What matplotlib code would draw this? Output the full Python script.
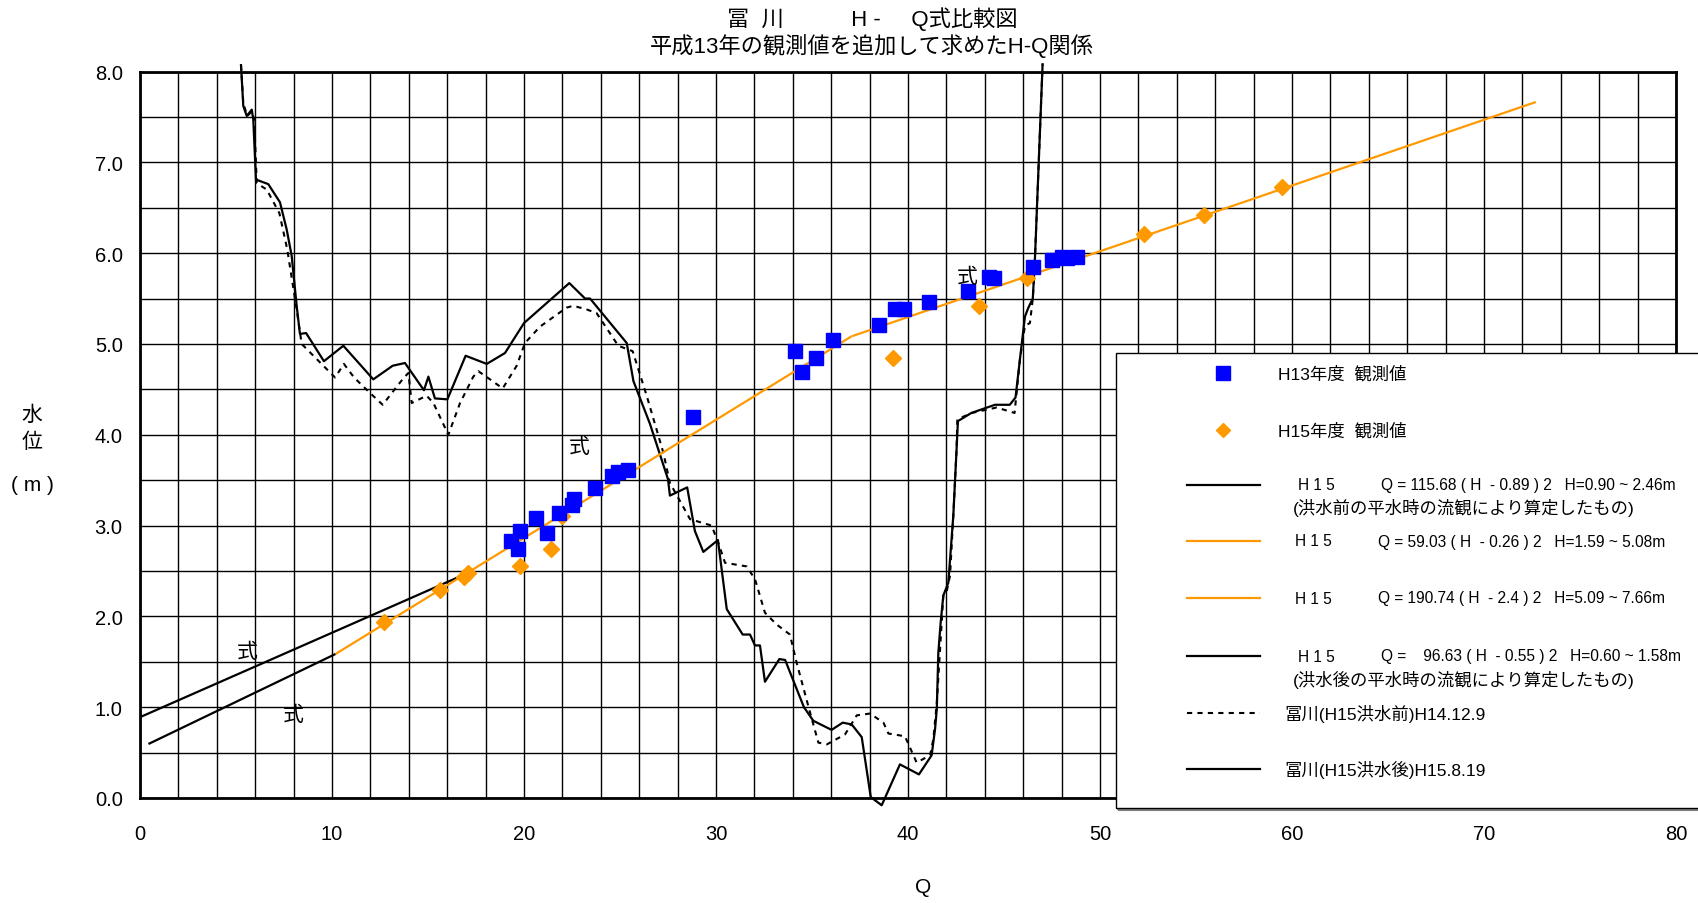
import numpy as np
import matplotlib
matplotlib.use("Agg")
import matplotlib.pyplot as plt
from matplotlib.lines import Line2D
from matplotlib.patches import Rectangle

plt.rcParams['font.family'] = ['Liberation Sans', 'Noto Sans CJK JP', 'DejaVu Sans']

# H13年度 観測値
q_h13 = [19.3, 19.8, 19.7, 20.6, 21.2, 21.8, 22.5, 22.6, 23.7, 24.6, 24.9, 25.4,
         28.8, 34.1, 34.5, 35.2, 36.1, 38.5, 39.3, 39.8, 41.1, 43.1, 44.2, 44.5,
         46.5, 47.5, 48.0, 48.3, 48.8]
h_h13 = [2.83, 2.94, 2.74, 3.08, 2.92, 3.14, 3.23, 3.29, 3.41, 3.55, 3.59, 3.61,
         4.19, 4.92, 4.69, 4.84, 5.04, 5.21, 5.38, 5.38, 5.46, 5.58, 5.74, 5.73,
         5.85, 5.92, 5.96, 5.95, 5.96]

# H15年度 観測値
q_h15 = [12.7, 15.6, 16.9, 17.1, 19.8, 21.4, 22.0, 39.2, 43.7, 46.2, 52.3, 55.4, 59.5]
h_h15 = [1.94, 2.29, 2.43, 2.48, 2.56, 2.74, 3.10, 4.85, 5.42, 5.73, 6.21, 6.42, 6.73]

# H-Q式  Q = a (H - b)^2 , hmin <= H <= hmax  (横軸は sqrt(Q) で直線になる)
hq_a = [115.68, 59.03, 190.74, 96.63]
hq_b = [0.89, 0.26, 2.4, 0.55]
hq_hmin = [0.90, 1.59, 5.09, 0.60]
hq_hmax = [2.46, 5.08, 7.66, 1.58]
hq_color = ['black', '#FF9900', '#FF9900', 'black']

# 冨川 横断 (H15洪水後) H15.8.19
sec_after_x = [5.26, 5.38, 5.56, 5.82, 5.90, 6.04, 6.68, 7.29, 7.64, 7.90, 8.16, 8.33,
               8.65, 9.58, 10.59, 12.15, 13.16, 13.80, 14.79, 15.02, 15.36, 16.01,
               16.96, 18.06, 19.01, 20.0, 22.36, 23.18, 23.44, 25.35, 25.7, 26.56,
               27.5, 27.6, 28.5, 28.9, 29.34, 30.1, 30.56, 31.39, 31.77, 32.03, 32.29,
               32.55, 33.3, 33.6, 34.58, 35.07, 36.02, 36.6, 37.07, 37.59, 38.06,
               38.63, 39.58, 40.57, 41.23, 41.41, 41.5, 41.58, 41.70, 41.84, 42.1,
               42.36, 42.53, 42.6, 43.3, 44.53, 45.3, 45.6, 45.83, 46.09, 46.27,
               46.5, 46.61, 47.01]
sec_after_h = [8.07, 7.62, 7.51, 7.58, 7.47, 6.81, 6.76, 6.56, 6.26, 5.97, 5.42, 5.11,
               5.12, 4.81, 4.98, 4.61, 4.76, 4.79, 4.49, 4.64, 4.40, 4.39,
               4.87, 4.78, 4.90, 5.23, 5.67, 5.50, 5.50, 5.01, 4.59, 4.12,
               3.51, 3.33, 3.42, 2.94, 2.71, 2.84, 2.08, 1.80, 1.80, 1.68, 1.68,
               1.28, 1.53, 1.52, 1.00, 0.85, 0.75, 0.83, 0.81, 0.67, 0.01,
               -0.08, 0.37, 0.26, 0.47, 0.76, 0.98, 1.60, 1.93, 2.23, 2.37,
               3.11, 3.84, 4.15, 4.24, 4.33, 4.33, 4.41, 4.83, 5.30, 5.40,
               5.50, 5.93, 8.08]

# 冨川 横断 (H15洪水前) H14.12.9
sec_before_x = [5.26, 5.38, 5.59, 5.82, 5.95, 6.08, 6.60, 7.26, 7.67, 8.16, 8.42, 9.03,
                9.55, 10.16, 10.62, 11.15, 11.98, 12.64, 13.19, 13.75, 13.98, 14.15,
                14.93, 15.28, 16.06, 16.67, 17.36, 17.62, 18.23, 18.89, 19.62, 20.05,
                20.83, 22.22, 22.57, 23.26, 23.78, 24.91, 25.66, 26.39, 27.26, 27.6,
                28.65, 29.77, 30.12, 30.47, 31.6, 32.03, 32.55, 33.16, 33.85, 34.2,
                34.81, 35.33, 35.77, 36.72, 37.33, 38.02, 38.72, 38.98, 39.84, 40.45,
                41.15, 41.32, 41.5, 41.67, 41.84, 42.0, 42.19, 42.36, 42.53, 42.57,
                43.32, 44.62, 45.55, 45.66, 45.83, 46.09, 46.35, 46.5, 46.61, 47.01]
sec_before_h = [8.07, 7.65, 7.51, 7.56, 7.47, 6.77, 6.70, 6.44, 6.04, 5.38, 5.00, 4.87,
                4.76, 4.63, 4.78, 4.63, 4.46, 4.33, 4.48, 4.63, 4.68, 4.35,
                4.43, 4.35, 4.00, 4.35, 4.64, 4.70, 4.61, 4.51, 4.76, 5.01,
                5.19, 5.40, 5.42, 5.38, 5.34, 4.98, 4.92, 4.43, 3.80, 3.47,
                3.07, 3.00, 2.81, 2.59, 2.55, 2.41, 2.04, 1.91, 1.80, 1.49,
                1.01, 0.61, 0.59, 0.70, 0.91, 0.93, 0.83, 0.71, 0.68, 0.39,
                0.47, 0.65, 1.05, 1.64, 2.23, 2.26, 2.45, 3.11, 3.84, 4.17,
                4.24, 4.30, 4.24, 4.47, 4.83, 5.20, 5.23, 5.50, 5.93, 8.08]

shiki_x = [5.6, 8.0, 22.9, 43.1]
shiki_h = [1.61, 0.92, 3.87, 5.74]

W, H = 1699, 904
fig = plt.figure(figsize=(W / 100, H / 100), dpi=100)
ax = fig.add_axes([140 / W, 1 - 799 / H, (1676 - 140) / W, (799 - 72.5) / H])

ax.set_xlim(0, 80)
ax.set_ylim(0, 8)
ax.set_xticks(np.arange(0, 81, 10))
ax.set_xticks(np.arange(0, 81, 2), minor=True)
ax.set_yticks(np.arange(0, 8.01, 1.0))
ax.set_yticks(np.arange(0, 8.01, 0.5), minor=True)
ax.set_yticklabels(['%.1f' % v for v in np.arange(0, 8.01, 1.0)])
ax.grid(which='both', color='black', lw=1.0)
ax.set_axisbelow(True)
ax.tick_params(which='both', length=0, labelsize=14.5)
ax.tick_params(axis='x', pad=19)
ax.tick_params(axis='y', pad=12.5)
for s in ax.spines.values():
    s.set_linewidth(2)

# 横断図
ax.plot(sec_after_x, sec_after_h, color='black', lw=1.6, clip_on=False, zorder=3)
ax.plot(sec_before_x, sec_before_h, color='black', lw=1.5, ls=(0, (2.5, 2.5)),
        clip_on=False, zorder=3)

# H-Q式
for a, b, h1, h2, c in zip(hq_a, hq_b, hq_hmin, hq_hmax, hq_color):
    hh = np.array([h1, h2])
    ax.plot(np.sqrt(a) * (hh - b), hh, color=c, lw=1.6, zorder=3)

ax.plot(q_h13, h_h13, ls='none', marker='s', ms=10.5, color='#0000FF', zorder=5)
ax.plot(q_h15, h_h15, ls='none', marker='D', ms=8, color='#FF9900', zorder=4)

for x, y in zip(shiki_x, shiki_h):
    ax.text(x, y, '式', fontsize=15, ha='center', va='center', zorder=6)

# タイトル・軸ラベル
fig.text(872 / W, 1 - 19.5 / H, '冨  川           H -     Q式比較図', fontsize=16,
         ha='center', va='center')
fig.text(872 / W, 1 - 45.5 / H, '平成13年の観測値を追加して求めたH-Q関係', fontsize=16,
         ha='center', va='center')
fig.text(32 / W, 1 - 415 / H, '水', fontsize=15, ha='center', va='center')
fig.text(32 / W, 1 - 442 / H, '位', fontsize=15, ha='center', va='center')
fig.text(32 / W, 1 - 486 / H, '( m )', fontsize=15, ha='center', va='center')
fig.text(923 / W, 1 - 888 / H, 'Q', fontsize=15, ha='center', va='center')

# 凡例
fx = lambda px: px / W
fy = lambda py: 1 - py / H
fig.patches.append(Rectangle((fx(1118), fy(811)), 1, fy(356) - fy(811),
                             transform=fig.transFigure, facecolor='none',
                             edgecolor='#808080', lw=1.5, zorder=9))
fig.patches.append(Rectangle((fx(1116), fy(809)), 1, fy(354) - fy(809),
                             transform=fig.transFigure, facecolor='white',
                             edgecolor='black', lw=1.0, zorder=10))

def leg_line(y, **kw):
    fig.add_artist(Line2D([fx(1187), fx(1260)], [fy(y), fy(y)], zorder=11, **kw))

fig.add_artist(Line2D([fx(1223.5)], [fy(374)], marker='s', ms=9.5, color='#0000FF',
                      ls='none', zorder=11))
fig.add_artist(Line2D([fx(1223.5)], [fy(431)], marker='D', ms=7.5, color='#FF9900',
                      ls='none', zorder=11))
leg_line(486, color='black', lw=1.6)
leg_line(542, color='#FF9900', lw=1.6)
leg_line(599, color='#FF9900', lw=1.6)
leg_line(657, color='black', lw=1.6)
leg_line(714, color='black', lw=1.5, ls=(0, (2.5, 2.5)))
leg_line(770, color='black', lw=1.6)

def leg_text(x, y, s, size=12.5):
    fig.text(fx(x), fy(y), s, fontsize=size, ha='left', va='center', zorder=12)

fs = 11.2
leg_text(1278, 374, 'H13年度  観測値')
leg_text(1278, 431, 'H15年度  観測値')
leg_text(1298, 486, 'H 1 5', fs)
leg_text(1381, 486, 'Q = 115.68 ( H  - 0.89 ) 2   H=0.90 ~ 2.46m', fs)
leg_text(1293, 508, '(洪水前の平水時の流観により算定したもの)')
leg_text(1295, 542, 'H 1 5', fs)
leg_text(1378, 542, 'Q = 59.03 ( H  - 0.26 ) 2   H=1.59 ~ 5.08m', fs)
leg_text(1295, 599, 'H 1 5', fs)
leg_text(1378, 599, 'Q = 190.74 ( H  - 2.4 ) 2   H=5.09 ~ 7.66m', fs)
leg_text(1298, 657, 'H 1 5', fs)
leg_text(1381, 657, 'Q =    96.63 ( H  - 0.55 ) 2   H=0.60 ~ 1.58m', fs)
leg_text(1293, 680, '(洪水後の平水時の流観により算定したもの)')
leg_text(1284, 714, '冨川(H15洪水前)H14.12.9')
leg_text(1284, 770, '冨川(H15洪水後)H15.8.19')

fig.savefig('out.png', dpi=100)
